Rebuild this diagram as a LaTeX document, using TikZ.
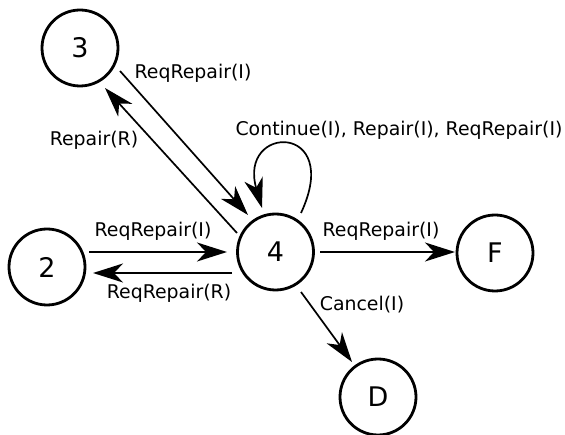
\documentclass[tikz,border=0pt]{standalone}
\usepackage{fontspec}
\setmainfont{DejaVu Sans}
\usetikzlibrary{arrows.meta,calc}
\tikzset{
  state/.style={circle,draw,line width=2.8pt,minimum size=76pt,inner sep=0pt,font=\fontsize{27}{30}\selectfont},
  edgelbl/.style={inner sep=0pt,font=\fontsize{18.9}{22}\selectfont},
  trans/.style={line width=1.7pt,-{Stealth[length=30pt,width=19pt,inset=9pt]}}
}
\begin{document}
\begin{tikzpicture}[x=1pt,y=1pt]
\useasboundingbox (0,0) rectangle (565,-435);
\node[state] (n3) at (80,-48) {3};
\node[state] (n2) at (47,-267) {2};
\node[state] (n4) at (275.5,-252) {4};
\node[state] (nF) at (495,-253) {F};
\node[state] (nD) at (378,-397) {D};

\draw[trans] ($(n2)+(42,15)$) -- ($(n4)+(-48.5,0)$);
\draw[trans] ($(n4)+(-43.5,-21)$) -- ($(n2)+(46,-6)$);
\draw[trans] ($(n4)+(44.5,0)$) -- ($(nF)+(-40,1)$);
\draw[trans] ($(n4)+(25.5,-40)$) -- ($(nD)+(-26,35)$);
\draw[trans] ($(n3)+(40,-23)$) -- ($(n4)+(-27.5,37)$);
\draw[trans] ($(n4)+(-38.5,19)$) -- ($(n3)+(25,-40)$);
\draw[trans] ($(n4)+(25.5,39)$) .. controls ($(n4)+(68,130)$) and ($(n4)+(-38,128)$) .. ($(n4)+(-13.5,44)$);

\node[edgelbl] (l34) at (193,-73) {ReqRepair(I)};
\node[edgelbl] (l43) at (94,-140) {Repair(R)};
\node[edgelbl] (lloop) at (399,-130) {Continue(I), Repair(I), ReqRepair(I)};
\node[edgelbl] (l24) at (153,-231) {ReqRepair(I)};
\node[edgelbl] (l42) at (169,-293) {ReqRepair(R)};
\node[edgelbl] (l4F) at (381,-231) {ReqRepair(I)};
\node[edgelbl] (l4D) at (362,-305) {Cancel(I)};
\end{tikzpicture}
\end{document}
